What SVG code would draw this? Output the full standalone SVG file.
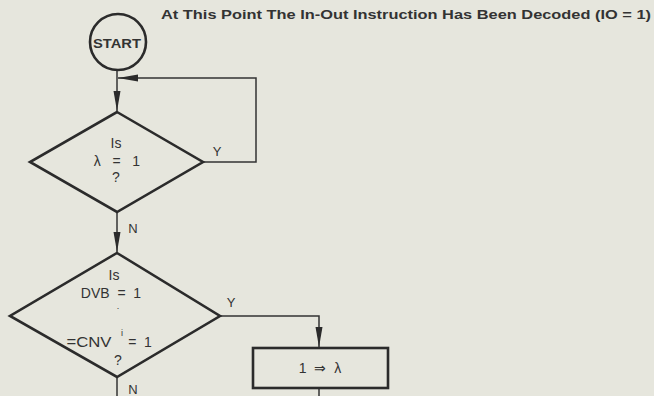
<svg xmlns="http://www.w3.org/2000/svg" width="654" height="396" viewBox="0 0 654 396">
<style>
.bg{fill:#e6e6dd}
.shape{fill:none;stroke:#2b2b2b;stroke-width:2.6;stroke-linejoin:miter}
.conn{fill:none;stroke:#333;stroke-width:1.5}
.t{font-family:"Liberation Sans",Arial,sans-serif;font-size:13px;fill:#333;text-anchor:middle}
.d{font-size:14px}
.b{font-weight:bold}
</style>
<defs>
<marker id="ah" markerUnits="userSpaceOnUse" markerWidth="20" markerHeight="8" refX="20" refY="3.5" orient="auto">
<path d="M0,0 L20,3.5 L0,7 z" fill="#2b2b2b"/>
</marker>
</defs>
<rect class="bg" x="0" y="0" width="654" height="396"/>
<text class="t b" x="161" y="19" style="text-anchor:start;font-size:13.5px" textLength="490" lengthAdjust="spacingAndGlyphs">At This Point The In-Out Instruction Has Been Decoded (IO = 1)</text>
<g id="connectors">
<path class="conn" d="M117,71 V111" marker-end="url(#ah)"/>
<path class="conn" d="M203,162 H256 V78 H118" marker-end="url(#ah)"/>
<path class="conn" d="M117,212 V252" marker-end="url(#ah)"/>
<path class="conn" d="M220,316 H319 V347" marker-end="url(#ah)"/>
<path class="conn" d="M117,377 V396"/>
<path class="conn" d="M319,388 V396"/>
<text class="t" x="217" y="156">Y</text>
<text class="t" x="133" y="233">N</text>
<text class="t" x="231" y="307">Y</text>
<text class="t" x="133" y="394">N</text>
</g>
<g id="start">
<circle class="shape" cx="118" cy="42" r="28"/>
<text class="t b" x="117" y="48" style="font-size:13.5px" textLength="48" lengthAdjust="spacingAndGlyphs">START</text>
</g>
<g id="decision1">
<polygon class="shape" points="117,112 203,162 117,212 30,162"/>
<text class="t d" x="116" y="148">Is</text>
<text class="t d" x="117" y="166" xml:space="preserve">λ   =   1</text>
<text class="t d" x="116" y="182">?</text>
</g>
<g id="decision2">
<polygon class="shape" points="117,253 220,316 117,377 10,316"/>
<text class="t d" x="114" y="280">Is</text>
<text class="t d" x="111" y="298" xml:space="preserve">DVB  =  1</text>
<text class="t" x="118" y="309" style="font-size:9px">.</text>
<text class="t d" x="89" y="347" textLength="45" lengthAdjust="spacingAndGlyphs">=CNV</text>
<text class="t" x="122" y="336" style="font-size:9px">i</text>
<text class="t d" x="140" y="347" xml:space="preserve">=  1</text>
<text class="t d" x="118" y="365">?</text>
</g>
<g id="set-lambda">
<rect class="shape" x="253" y="348" width="135" height="40"/>
<text class="t" x="320" y="373" style="font-size:14px" xml:space="preserve">1  ⇒  λ</text>
</g>
</svg>
